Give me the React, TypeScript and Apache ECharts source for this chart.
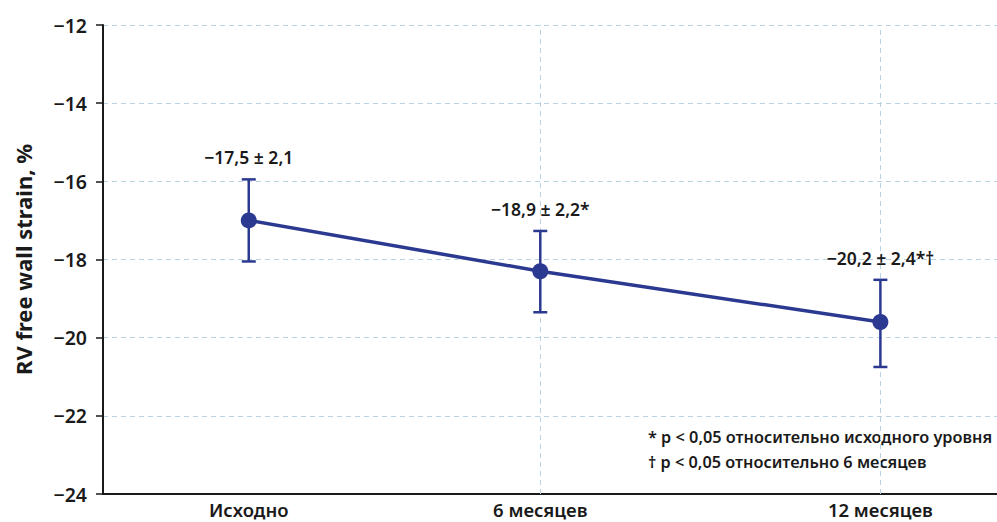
import React, { useEffect, useRef } from "react";
import * as echarts from "echarts";

const categories = ["Исходно", "6 месяцев", "12 месяцев"];
// position of each time point along the (unevenly spaced) horizontal axis
const xSlots = [0, 6, 13];
const means = [-17.0, -18.3, -19.6];
const errLow = [-18.05, -19.35, -20.75];
const errHigh = [-15.95, -17.27, -18.52];
const pointLabels = ["\u221217,5 \u00b1 2,1", "\u221218,9 \u00b1 2,2*", "\u221220,2 \u00b1 2,4*\u2020"];
const yTicks = { min: -24, max: -12, interval: 2 };
const footnotes = [
  "* p < 0,05 относительно исходного уровня",
  "\u2020 p < 0,05 относительно 6 месяцев",
];

const FONT = "'Noto Sans', 'Open Sans', sans-serif";
const BLUE = "#2b3990";
const GRIDC = "#b9d3e3";
const TXT = "#1a1a1a";

export default function App() {
  const ref = useRef<HTMLDivElement>(null);
  useEffect(() => {
    if (!ref.current) return;
    const chart = echarts.init(ref.current, undefined, { renderer: "svg" });
    const lineData = xSlots.map((x, i) => [x, means[i]]);
    const errData = xSlots.map((x, i) => [x, errLow[i], errHigh[i], i]);
    chart.setOption({
      animation: false,
      grid: { left: 103, right: 0, top: 25, bottom: 28, containLabel: false },
      xAxis: {
        type: "value",
        min: -3,
        max: 15.4,
        axisLine: { show: true, onZero: false, lineStyle: { color: TXT, width: 2 } },
        axisTick: { show: false },
        splitLine: { show: false },
        axisLabel: {
          customValues: xSlots,
          formatter: (v: number) => {
            const i = xSlots.indexOf(v);
            return i >= 0 ? categories[i] : "";
          },
          color: TXT,
          fontFamily: FONT,
          fontSize: 18.5,
          fontWeight: 600,
          margin: 6,
        },
      },
      yAxis: {
        type: "value",
        min: yTicks.min,
        max: yTicks.max,
        interval: yTicks.interval,
        name: "RV free wall strain, %",
        nameLocation: "middle",
        nameGap: 69,
        nameTextStyle: { color: TXT, fontFamily: FONT, fontSize: 22, fontWeight: 700 },
        axisLine: { show: true, onZero: false, lineStyle: { color: TXT, width: 2 } },
        axisTick: { show: true, length: 7, lineStyle: { color: TXT, width: 1.5 } },
        axisLabel: {
          formatter: (v: number) => (v < 0 ? "\u2212" + Math.abs(v) : String(v)),
          color: TXT,
          fontFamily: FONT,
          fontSize: 19.5,
          fontWeight: 600,
          margin: 16,
        },
        splitLine: { show: true, lineStyle: { color: GRIDC, type: [5, 4], width: 1 } },
      },
      series: [
        {
          type: "line",
          data: lineData,
          symbol: "circle",
          symbolSize: 16,
          lineStyle: { color: BLUE, width: 3.5 },
          itemStyle: { color: BLUE },
          z: 3,
          markLine: {
            silent: true,
            symbol: "none",
            label: { show: false },
            lineStyle: { color: GRIDC, type: [5, 4], width: 1 },
            data: xSlots.slice(1).map((x) => ({ xAxis: x })),
            z: 1,
          },
        },
        {
          type: "custom",
          data: errData,
          z: 4,
          renderItem: (params: any, api: any) => {
            const x = api.value(0);
            const lo = api.coord([x, api.value(1)]);
            const hi = api.coord([x, api.value(2)]);
            const idx = api.value(3);
            const cap = 7;
            const st = { stroke: BLUE, lineWidth: 2.5 };
            return {
              type: "group",
              children: [
                { type: "line", shape: { x1: lo[0], y1: lo[1], x2: hi[0], y2: hi[1] }, style: st },
                { type: "line", shape: { x1: lo[0] - cap, y1: lo[1], x2: lo[0] + cap, y2: lo[1] }, style: st },
                { type: "line", shape: { x1: hi[0] - cap, y1: hi[1], x2: hi[0] + cap, y2: hi[1] }, style: st },
                {
                  type: "text",
                  x: hi[0],
                  y: hi[1] - 22,
                  style: {
                    text: pointLabels[idx],
                    fill: TXT,
                    font: `600 17.5px ${FONT}`,
                    align: "center",
                    verticalAlign: "middle",
                  },
                },
              ],
            };
          },
        },
      ],
      graphic: footnotes.map((t, i) => ({
        type: "text",
        left: 648,
        top: 429 + i * 25,
        style: { text: t, fill: TXT, font: `600 16.3px ${FONT}` },
      })),
    });
    return () => chart.dispose();
  }, []);
  return (
    <div
      ref={ref}
      style={{ position: "fixed", left: 0, top: 0, width: 997, height: 522, background: "#fff" }}
    />
  );
}
